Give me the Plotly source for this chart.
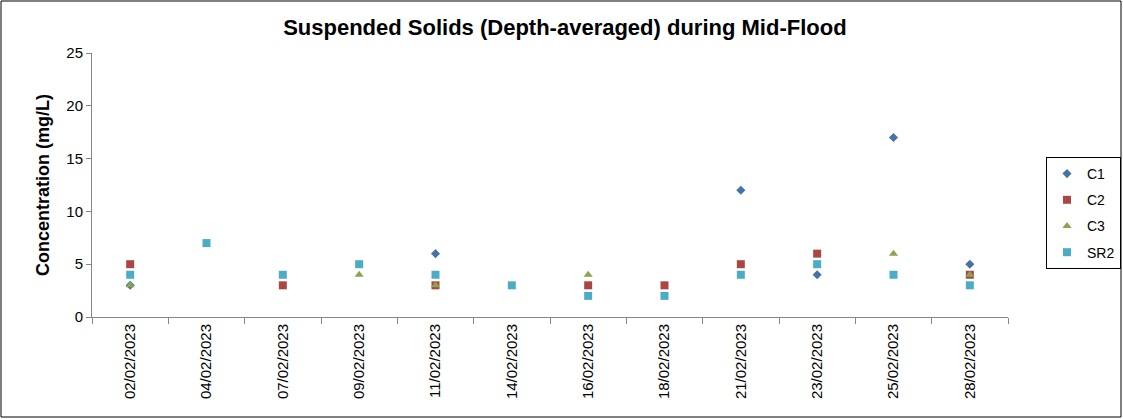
import plotly.graph_objects as go

# Datas de amostragem (eixo categórico)
datas = ['02/02/2023', '04/02/2023', '07/02/2023', '09/02/2023', '11/02/2023', '14/02/2023',
         '16/02/2023', '18/02/2023', '21/02/2023', '23/02/2023', '25/02/2023', '28/02/2023']

# Concentrações (mg/L)
c1 = [3, None, None, None, 6, None, None, None, 12, 4, 17, 5]
c2 = [5, None, 3, None, 3, None, 3, 3, 5, 6, None, 4]
c3 = [3, None, None, 4, 3, None, 4, None, None, None, 6, 4]
sr2 = [4, 7, 4, 5, 4, 3, 2, 2, 4, 5, 4, 3]

fig = go.Figure()
fig.add_trace(go.Scatter(x=datas, y=c1, mode='markers', name='C1', legendgroup='a',
                         marker=dict(symbol='diamond', size=7, color='#4572A7')))
fig.add_trace(go.Scatter(x=datas, y=c2, mode='markers', name='C2', legendgroup='b',
                         marker=dict(symbol='square', size=8, color='#AA4643')))
fig.add_trace(go.Scatter(x=datas, y=c3, mode='markers', name='C3', legendgroup='c',
                         marker=dict(symbol='triangle-up', size=8, color='#89A54E')))
fig.add_trace(go.Scatter(x=datas, y=sr2, mode='markers', name='SR2', legendgroup='d',
                         marker=dict(symbol='square', size=8, color='#4BACC6')))

# Margens fixas (área de plotagem igual à referência)
L, R, T, B = 92, 115, 53, 102
W, H = 1123, 419
pw, ph = W - L - R, H - T - B

# Borda em volta da figura
fig.add_shape(type='rect', xref='paper', yref='paper',
              x0=(1 - L) / pw, x1=(W - 2 - L) / pw,
              y0=-(B - 2) / ph, y1=1 + (T - 1) / ph,
              line=dict(color='black', width=1), layer='below')

fig.update_layout(
    width=W, height=H,
    margin=dict(l=L, r=R, t=T, b=B, autoexpand=False),
    plot_bgcolor='white', paper_bgcolor='white',
    font=dict(family='Liberation Sans, Arial, sans-serif', color='black'),
    title=dict(text='<b>Suspended Solids (Depth-averaged) during Mid-Flood</b>',
               x=0.503, xref='container', y=0.935, yanchor='middle',
               font=dict(size=22)),
    legend=dict(x=(1046 - L) / pw, y=1 - (157 - T) / ph, xanchor='left', yanchor='top',
                bordercolor='black', borderwidth=1, font=dict(size=14),
                traceorder='grouped', tracegroupgap=5, itemwidth=30),
    showlegend=True,
)
fig.update_xaxes(type='category', showline=True, linecolor='#868686', linewidth=1,
                 ticks='outside', tickson='boundaries', ticklen=6, tickcolor='#868686',
                 tickangle=-90, tickfont=dict(size=15), showgrid=False, zeroline=False,
                 range=[-0.5, 11.5])
fig.update_yaxes(range=[0, 25], dtick=5, showline=True, linecolor='#868686', linewidth=1,
                 ticks='outside', ticklen=5, tickcolor='#868686', tickfont=dict(size=15),
                 showgrid=False, zeroline=False,
                 title=dict(text='<b>Concentration (mg/L)</b>', font=dict(size=18), standoff=12))

# Remove a margem padrão do body da página
fig.write_html("out.html", config={'displayModeBar': False},
               post_script="document.body.style.margin='0';")
